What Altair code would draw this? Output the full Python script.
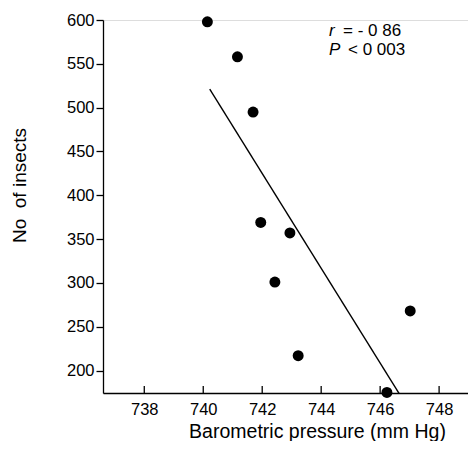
import altair as alt
import pandas as pd

# Data
pressure = [740.14, 741.16, 741.69, 741.95, 742.94, 742.43, 747.02, 743.22, 746.23]
insects = [598, 558, 495, 369, 357, 301, 268, 217, 175]
fit_pressure = [740.22, 746.64]
fit_insects = [521, 174]
x_ticks = [738, 740, 742, 744, 746, 748]
y_ticks = [200, 250, 300, 350, 400, 450, 500, 550, 600]
stats_symbols = ["r", "P"]
stats_texts = ["= - 0 86", "< 0 003"]

W, H = 365, 373
FONT = "Liberation Sans"

pts = pd.DataFrame({"pressure": pressure, "insects": insects})
fit = pd.DataFrame({"pressure": fit_pressure, "insects": fit_insects})
xt = pd.DataFrame({"pressure": x_ticks})

xscale = alt.Scale(domain=[736.6, 748.98], nice=False, zero=False)
yscale = alt.Scale(domain=[174.4, 600], nice=False, zero=False)

xaxis = alt.Axis(
    values=x_ticks, format="d", ticks=False, grid=False,
    labelPadding=8, labelFontSize=16.5, labelFont=FONT, labelColor="black",
    domainColor="black", domainWidth=1.3,
    title="Barometric pressure (mm Hg)", titleFont=FONT, titleFontSize=19.5,
    titleFontWeight="normal", titleColor="black",
    titleX=214, titleY=44, titleAlign="center", titleBaseline="alphabetic",
)
yaxis = alt.Axis(
    values=y_ticks, format="d", grid=False,
    tickSize=7, tickColor="black", tickWidth=1.3,
    labelPadding=2, labelFontSize=16.5, labelFont=FONT, labelColor="black",
    domainColor="black", domainWidth=1.3,
    title="No\u00a0 of insects", titleFont=FONT, titleFontSize=19,
    titleFontWeight="normal", titleColor="black",
    titleX=-84, titleY=165, titleAngle=270, titleAlign="center", titleBaseline="middle",
)

X = alt.X("pressure:Q", scale=xscale, axis=xaxis)
Y = alt.Y("insects:Q", scale=yscale, axis=yaxis)

points = alt.Chart(pts).mark_circle(size=120, color="black", opacity=1).encode(x=X, y=Y)
line = alt.Chart(fit).mark_line(color="black", strokeWidth=1.4, clip=True).encode(x=X, y=Y)
ticks = alt.Chart(xt).mark_rule(color="black", strokeWidth=1.3).encode(
    x=X, y=alt.value(H - 7), y2=alt.value(H)
)

texts = []
for i, (yy) in enumerate([16, 34.5]):
    sym = alt.Chart(pd.DataFrame({"s": [stats_symbols[i]]})).mark_text(
        font=FONT, fontSize=17, fontStyle="italic", align="left", baseline="alphabetic", color="black"
    ).encode(text="s:N", x=alt.value(226), y=alt.value(yy))
    rest = alt.Chart(pd.DataFrame({"s": [stats_texts[i]]})).mark_text(
        font=FONT, fontSize=17, align="left", baseline="alphabetic", color="black"
    ).encode(text="s:N", x=alt.value(240 if i == 0 else 245), y=alt.value(yy))
    texts += [sym, rest]

chart = alt.layer(line, ticks, points, *texts).properties(
    width=W, height=H,
    autosize=alt.AutoSizeParams(type="none"),
    padding={"left": 95, "top": 12, "right": 0, "bottom": 48},
).configure_view(stroke=None).configure(background="white")

chart.save("out.html", embed_options={"renderer": "svg", "actions": False})
